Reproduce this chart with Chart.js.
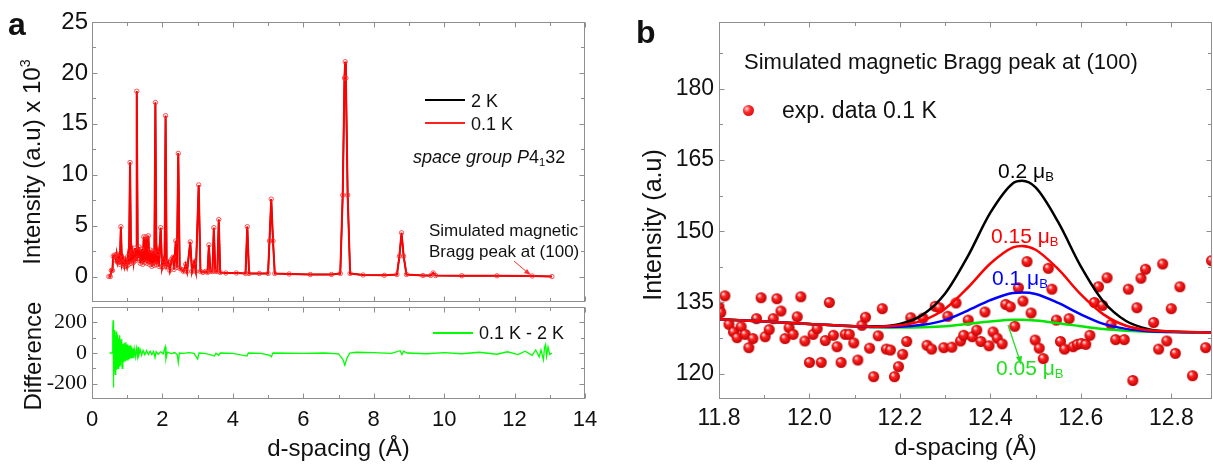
<!DOCTYPE html>
<html>
<head>
<meta charset="utf-8">
<script src="https://cdn.jsdelivr.net/npm/chart.js@4.4.0/dist/chart.umd.min.js"></script>
<style>
  html, body { margin: 0; padding: 0; background: #fff; }
  #wrap { position: relative; width: 1213px; height: 466px; overflow: hidden;
          font-family: 'Liberation Sans', Arial, sans-serif; color: #111; }
  canvas { position: absolute; }
  .t { position: absolute; white-space: nowrap; line-height: 1; transform: translateY(-50%); }
  .rot { position: absolute; white-space: nowrap; line-height: 1; transform: translate(-50%, -50%) rotate(-90deg); }
  .key { position: absolute; height: 2px; }
  sub.s { font-size: 0.62em; vertical-align: -0.3em; line-height: 0; }
  sup.s { font-size: 0.6em; vertical-align: 0.7em; line-height: 0; }
  #ball { position: absolute; width: 11px; height: 11px; border-radius: 50%;
          background: radial-gradient(circle at 35% 35%, #ffd6d6 0%, #ff2a2a 35%, #c40000 100%); }
</style>
</head>
<body>
<div id="wrap">
  <canvas id="patternChart" width="600" height="305" style="left:0;top:0"></canvas>
  <canvas id="diffChart" width="600" height="161" style="left:0;top:305px"></canvas>
  <canvas id="peakChart" width="593" height="466" style="left:620px;top:0"></canvas>

  <div class="t" style="left:8px;top:24px;font-size:32px;font-weight:bold">a</div>
  <div class="t" style="left:636px;top:32px;font-size:32px;font-weight:bold">b</div>

  <div class="rot" style="left:32px;top:162px;font-size:24px">Intensity (a.u) x 10<sup class="s">3</sup></div>
  <div class="rot" style="left:33px;top:356px;font-size:24px">Difference</div>
  <div class="rot" style="left:652px;top:225px;font-size:25px">Intensity (a.u)</div>

  <div class="key" style="left:425px;top:99px;width:40px;background:#000"></div>
  <div class="t" style="left:471px;top:101px;font-size:18px">2 K</div>
  <div class="key" style="left:425px;top:122px;width:40px;background:#ff2020"></div>
  <div class="t" style="left:471px;top:124px;font-size:18px">0.1 K</div>
  <div class="t" style="left:413px;top:157px;font-size:18px"><i>space group P</i>4<sub class="s">1</sub>32</div>
  <div class="t" style="left:429px;top:230px;font-size:17px">Simulated magnetic</div>
  <div class="t" style="left:429px;top:251px;font-size:17px">Bragg peak at (100)</div>

  <div class="key" style="left:433px;top:332px;width:40px;background:#00ff00"></div>
  <div class="t" style="left:479px;top:333px;font-size:18px">0.1 K - 2 K</div>

  <div class="t" style="left:744px;top:62px;font-size:22px">Simulated magnetic Bragg peak at (100)</div>
  <div id="ball" style="left:743px;top:105px"></div>
  <div class="t" style="left:782px;top:110px;font-size:23px">exp. data 0.1 K</div>

  <div class="t" style="left:998px;top:170px;font-size:21px;color:#000">0.2 μ<sub class="s">B</sub></div>
  <div class="t" style="left:991px;top:235px;font-size:21px;color:#ff0000">0.15 μ<sub class="s">B</sub></div>
  <div class="t" style="left:992px;top:277px;font-size:21px;color:#0000ff">0.1 μ<sub class="s">B</sub></div>
  <div class="t" style="left:996px;top:367px;font-size:21px;color:#22e022">0.05 μ<sub class="s">B</sub></div>

  <svg width="1213" height="466" style="position:absolute;left:0;top:0">
    <line x1="514" y1="261" x2="528" y2="273" stroke="#ff3030" stroke-width="1"/>
    <polygon points="531,275 524,273 527,269" fill="#ff3030"/>
    <line x1="1008" y1="325" x2="1019" y2="358" stroke="#22e022" stroke-width="1.3"/>
    <polygon points="1021,365 1016,357 1022,356" fill="#22e022"/>
  </svg>
</div>

<script>
// panel a: powder pattern, intensity in units of 10^3
const patternD = [
  0.48, 0.52, 0.55, 0.58, 0.60, 0.64, 0.68, 0.70, 0.73, 0.76,
  0.79, 0.82, 0.85, 0.88, 0.92, 0.95, 0.99, 1.02, 1.05, 1.08,
  1.11, 1.15, 1.18, 1.22, 1.25, 1.27, 1.30, 1.34, 1.37, 1.41,
  1.44, 1.47, 1.50, 1.53, 1.56, 1.60, 1.63, 1.66, 1.70, 1.73,
  1.77, 1.80, 1.83, 1.87, 1.90, 1.95, 1.99, 2.03, 2.06, 2.09,
  2.12, 2.17, 2.21, 2.26, 2.30, 2.33, 2.38, 2.41, 2.45, 2.49,
  2.55, 2.60, 2.66, 2.70, 2.79, 2.84, 2.90, 2.95, 3.03, 3.08,
  3.15, 3.22, 3.28, 3.32, 3.36, 3.42, 3.46, 3.50, 3.56, 3.60,
  3.64, 3.80, 4.10, 4.36, 4.41, 4.46, 4.75, 5.00, 5.04, 5.09,
  5.14, 5.19, 5.60, 6.20, 6.80, 7.05, 7.12, 7.17, 7.19, 7.21,
  7.26, 7.33, 7.70, 8.30, 8.66, 8.73, 8.79, 8.85, 8.93, 9.40,
  9.62, 9.69, 9.76, 10.5, 11.5, 12.5, 13.06
];
const patternI = [
  0, 0, 0.6, 0.6, 2.0, 2.1, 1.6, 2.2, 1.4, 1.9,
  1.2, 4.9, 1.3, 1.8, 1.0, 1.6, 1.0, 2.0, 1.2, 11.2,
  1.3, 2.4, 1.4, 2.8, 1.6, 18.2, 1.8, 2.9, 1.3, 2.7,
  1.2, 3.9, 1.4, 3.9, 1.3, 4.0, 1.2, 2.6, 1.0, 2.5,
  1.1, 17.1, 1.2, 2.3, 1.0, 4.8, 0.9, 1.6, 1.0, 15.8,
  1.0, 1.4, 0.6, 1.7, 1.9, 0.7, 3.5, 0.9, 12.1, 0.8,
  0.7, 0.5, 1.2, 0.5, 3.4, 0.5, 1.4, 0.5, 9.0, 0.5,
  0.4, 0.5, 0.4, 3.1, 0.5, 0.5, 4.8, 0.5, 0.5, 5.6,
  0.4, 0.35, 0.35, 0.3, 4.9, 0.3, 0.3, 0.3, 3.5, 7.6,
  3.5, 0.3, 0.25, 0.2, 0.2, 0.3, 8.0, 19.5, 21.1, 19.5,
  8.0, 0.3, 0.15, 0.12, 0.2, 2.0, 4.3, 2.0, 0.2, 0.1,
  0.1, 0.35, 0.1, 0.08, 0.08, 0.05, 0.0
];
const patternYTicks = [0, 5, 10, 15, 20, 25];
const patternYMinor = [2.5, 7.5, 12.5, 17.5, 22.5];
const dTicks = [0, 2, 4, 6, 8, 10, 12, 14];
const dMinor = [1, 3, 5, 7, 9, 11, 13];

// panel a: difference 0.1 K - 2 K
const diffD = [
  0.50, 0.58, 0.59, 0.60, 0.605, 0.61, 0.62, 0.63, 0.64, 0.65,
  0.66, 0.67, 0.68, 0.69, 0.70, 0.71, 0.72, 0.73, 0.74, 0.75,
  0.76, 0.77, 0.78, 0.79, 0.80, 0.81, 0.82, 0.83, 0.84, 0.85,
  0.86, 0.87, 0.88, 0.89, 0.90, 0.92, 0.94, 0.96, 0.98, 1.00,
  1.02, 1.04, 1.06, 1.08, 1.10, 1.12, 1.14, 1.16, 1.18, 1.20,
  1.23, 1.26, 1.29, 1.31, 1.33, 1.37, 1.41, 1.45, 1.50, 1.55,
  1.60, 1.65, 1.70, 1.75, 1.79, 1.82, 1.88, 1.95, 2.02, 2.08,
  2.10, 2.14, 2.25, 2.35, 2.42, 2.45, 2.48, 2.60, 2.75, 2.90,
  3.00, 3.04, 3.20, 3.35, 3.48, 3.52, 3.60, 3.64, 4.00, 4.40,
  4.44, 4.80, 5.05, 5.09, 5.14, 6.00, 6.60, 7.00, 7.12, 7.18,
  7.24, 7.32, 7.50, 8.00, 8.50, 8.75, 8.80, 8.85, 8.95, 9.50,
  10.0, 10.5, 11.0, 11.5, 11.8, 12.1, 12.3, 12.5, 12.6, 12.7,
  12.75, 12.82, 12.85, 12.88, 12.91, 12.95, 13.0, 13.06
];
const diffV = [
  0, 0, 160, 213, -225, 180, -160, 130, -120, 150,
  -140, 110, -90, 140, -110, 100, -80, 120, -100, 90,
  -70, 100, -90, 115, -60, 80, -70, 90, -55, 70,
  -100, 60, -80, 55, -60, 65, -50, 70, -45, 55,
  -50, 45, -40, 50, -35, 40, -30, 30, -30, 25,
  -25, 30, -20, 40, -15, 20, -15, 18, -12, 15,
  -10, 12, -10, 10, -30, 8, -8, 8, -5, 40,
  -40, 5, -4, 3, -10, -62, 0, -3, 2, -3,
  -40, 0, -2, -10, -20, -2, -15, 0, -2, -20,
  0, -2, -15, -25, 0, -2, 0, -5, -40, -80,
  -35, 0, 5, 3, -2, 15, -10, 12, 0, -5,
  3, -5, 5, -8, 8, -10, 12, -15, 20, -25,
  20, -45, 35, 55, -20, 40, -10, 0
];
const diffYTicks = [-200, 0, 200];
const diffYMinor = [-100, 100];

// panel b: exp. data 0.1 K
const expD = [
  11.800, 11.804, 11.813, 11.822, 11.832, 11.840, 11.849, 11.858, 11.866, 11.875,
  11.883, 11.893, 11.902, 11.911, 11.920, 11.928, 11.937, 11.946, 11.955, 11.964,
  11.973, 11.981, 11.990, 12.000, 12.008, 12.017, 12.026, 12.035, 12.044, 12.053,
  12.061, 12.070, 12.079, 12.088, 12.098, 12.107, 12.116, 12.124, 12.133, 12.142,
  12.152, 12.161, 12.170, 12.179, 12.188, 12.197, 12.206, 12.215, 12.224, 12.251,
  12.260, 12.270, 12.278, 12.287, 12.297, 12.306, 12.315, 12.324, 12.334, 12.341,
  12.351, 12.360, 12.370, 12.379, 12.388, 12.397, 12.406, 12.415, 12.426, 12.434,
  12.444, 12.454, 12.462, 12.472, 12.481, 12.490, 12.499, 12.508, 12.517, 12.528,
  12.536, 12.546, 12.555, 12.564, 12.574, 12.583, 12.592, 12.601, 12.611, 12.620,
  12.630, 12.639, 12.648, 12.658, 12.667, 12.677, 12.696, 12.705, 12.715, 12.724,
  12.733, 12.743, 12.761, 12.772, 12.781, 12.790, 12.800, 12.809, 12.819, 12.847,
  12.876, 12.889
];
const expI = [
  134.1, 132.9, 136.4, 130.4, 128.8, 127.6, 129.9, 128.3, 125.5, 127.4,
  131.6, 136.0, 127.8, 129.3, 131.6, 135.8, 133.2, 127.4, 129.7, 128.3,
  132.0, 136.2, 126.9, 122.4, 128.3, 129.5, 122.4, 127.0, 135.0, 128.1,
  125.7, 122.4, 128.3, 128.3, 126.5, 122.9, 130.2, 131.9, 125.4, 119.4,
  128.0, 133.7, 125.2, 125.0, 119.4, 121.5, 124.1, 126.8, 131.8, 131.7,
  126.0, 125.2, 134.2, 133.9, 125.5, 132.1, 125.6, 134.9, 126.9, 128.1,
  131.3, 127.8, 129.2, 126.8, 133.0, 125.9, 128.8, 127.5, 126.3, 134.6,
  134.1, 130.0, 138.1, 135.3, 143.6, 132.8, 127.1, 125.4, 123.2, 142.2,
  137.8, 131.3, 126.8, 125.2, 131.6, 125.7, 126.2, 126.4, 126.2, 128.1,
  135.0, 138.3, 134.4, 140.2, 130.4, 127.2, 127.2, 137.8, 118.6, 133.9,
  140.1, 142.0, 130.8, 125.2, 143.1, 126.9, 133.7, 124.3, 138.3, 119.6,
  125.5, 143.8
];

// panel b: simulated (100) peak for several moments
const simD   = [11.8, 11.9, 12.0, 12.1, 12.15, 12.2, 12.25, 12.3, 12.35, 12.4, 12.45, 12.47, 12.5, 12.55, 12.6, 12.65, 12.7, 12.75, 12.8, 12.89];
const mu020  = [131.5, 131.0, 130.5, 130.0, 130.0, 130.5, 132.4, 136.9, 144.7, 153.9, 160.1, 160.6, 159.2, 151.9, 142.6, 135.2, 131.1, 129.4, 128.9, 128.7];
const mu015  = [131.5, 131.0, 130.5, 130.0, 129.9, 130.2, 131.2, 133.7, 138.1, 143.2, 146.6, 146.9, 146.1, 142.0, 136.7, 132.5, 130.1, 129.15, 128.9, 128.7];
const mu010  = [131.5, 131.0, 130.5, 130.0, 129.85, 129.9, 130.3, 131.3, 133.3, 135.5, 137.0, 137.1, 136.8, 134.9, 132.5, 130.5, 129.45, 128.95, 128.8, 128.7];
const mu005  = [131.5, 131.0, 130.5, 130.0, 129.8, 129.75, 129.8, 130.0, 130.5, 131.0, 131.35, 131.35, 131.2, 130.65, 130.0, 129.4, 129.05, 128.85, 128.8, 128.7];
const peakXTicks = [11.8, 12.0, 12.2, 12.4, 12.6, 12.8];
const peakXMinor = [11.9, 12.1, 12.3, 12.5, 12.7];
const peakYTicks = [120, 135, 150, 165, 180];
const peakYMinor = [127.5, 142.5, 157.5, 172.5, 187.5];

const FONT = "'Liberation Sans', Arial, sans-serif";
const pts = (xs, ys) => xs.map((x, i) => ({ x: x, y: ys[i] }));

// box round the plot area with inward ticks on all four sides
const frameTicks = {
    id: 'frameTicks',
    afterDatasetsDraw(chart, args, o) {
        const { ctx, chartArea: a } = chart;
        const xs = chart.scales.x, ys = chart.scales.y;
        const L = Math.round(a.left) + 0.5, R = Math.round(a.right) - 0.5;
        const T = Math.round(a.top) + 0.5, B = Math.round(a.bottom) - 0.5;
        ctx.save();
        ctx.strokeStyle = '#8e8e8e';
        ctx.lineWidth = 1;
        ctx.beginPath();
        const xMark = (vals, len) => vals.forEach(v => {
            const p = Math.round(xs.getPixelForValue(v)) + 0.5;
            ctx.moveTo(p, B); ctx.lineTo(p, B - len);
            ctx.moveTo(p, T); ctx.lineTo(p, T + len);
        });
        const yMark = (vals, len) => vals.forEach(v => {
            const p = Math.round(ys.getPixelForValue(v)) + 0.5;
            ctx.moveTo(L, p); ctx.lineTo(L + len, p);
            ctx.moveTo(R, p); ctx.lineTo(R - len, p);
        });
        xMark(o.xMajor, 5); xMark(o.xMinor, 3.5);
        yMark(o.yMajor, 5); yMark(o.yMinor, 3.5);
        ctx.stroke();
        ctx.strokeRect(L, T, R - L, B - T);
        ctx.restore();
    }
};

const fixedTicks = vals => scale => { scale.ticks = vals.map(v => ({ value: v })); };
// pin an axis to a set size and drop the label overhang padding
const fixWidth = w => s => { s.width = w; s.paddingTop = 0; s.paddingBottom = 0; };
const fixHeight = h => s => { s.height = h; s.paddingLeft = 0; s.paddingRight = 0; };

// ball marker for the experimental points
function makeBall(r) {
    const c = document.createElement('canvas');
    const s = r * 2 + 2;
    c.width = s; c.height = s;
    const g = c.getContext('2d');
    const grad = g.createRadialGradient(s / 2 - r * 0.35, s / 2 - r * 0.4, r * 0.1, s / 2, s / 2, r);
    grad.addColorStop(0, '#ffe0e0');
    grad.addColorStop(0.35, '#ff2424');
    grad.addColorStop(1, '#c20000');
    g.fillStyle = grad;
    g.beginPath();
    g.arc(s / 2, s / 2, r, 0, Math.PI * 2);
    g.fill();
    return c;
}

const common = {
    responsive: false,
    animation: false,
    events: [],
    plugins: { legend: { display: false }, tooltip: { enabled: false } }
};

new Chart(document.getElementById('patternChart'), {
    type: 'scatter',
    data: {
        datasets: [
            {
                label: '0.1 K',
                data: pts(patternD, patternI),
                showLine: true,
                borderColor: '#ff0000',
                borderWidth: 2,
                pointRadius: 2.2,
                pointBorderWidth: 1,
                pointBorderColor: 'rgba(255,40,40,0.8)',
                pointBackgroundColor: 'rgba(255,255,255,0)',
                order: 0
            },
            {
                label: '2 K',
                data: pts(patternD, patternI),
                showLine: true,
                borderColor: '#000',
                borderWidth: 1.5,
                pointRadius: 0,
                order: 1
            }
        ]
    },
    options: {
        ...common,
        layout: { autoPadding: false, padding: { top: 22, right: 15, bottom: 3, left: 0 } },
        plugins: { ...common.plugins,
            frameTicks: { xMajor: dTicks, xMinor: dMinor, yMajor: patternYTicks, yMinor: patternYMinor } },
        scales: {
            x: { type: 'linear', display: false, min: 0, max: 14 },
            y: {
                type: 'linear', min: -2.5, max: 25,
                afterFit: fixWidth(92),
                afterBuildTicks: fixedTicks(patternYTicks),
                grid: { display: false, drawTicks: false },
                border: { display: false },
                ticks: { autoSkip: false, padding: 4, color: '#111', font: { family: FONT, size: 24 } }
            }
        }
    },
    plugins: [frameTicks]
});

new Chart(document.getElementById('diffChart'), {
    type: 'scatter',
    data: {
        datasets: [{
            label: '0.1 K - 2 K',
            data: pts(diffD, diffV),
            showLine: true,
            borderColor: '#00ff00',
            borderWidth: 1.3,
            pointRadius: 0
        }]
    },
    options: {
        ...common,
        layout: { autoPadding: false, padding: { top: 2, right: 15, bottom: 0, left: 0 } },
        plugins: { ...common.plugins,
            frameTicks: { xMajor: dTicks, xMinor: dMinor, yMajor: diffYTicks, yMinor: diffYMinor } },
        scales: {
            x: {
                type: 'linear', min: 0, max: 14,
                afterFit: fixHeight(67),
                afterBuildTicks: fixedTicks(dTicks),
                grid: { display: false, drawTicks: false },
                border: { display: false },
                ticks: { autoSkip: false, maxRotation: 0, padding: 8, color: '#111', font: { family: FONT, size: 22 } },
                title: { display: true, text: 'd-spacing (Å)', color: '#111', padding: { top: 0, bottom: 2 },
                         font: { family: FONT, size: 24 } }
            },
            y: {
                type: 'linear', min: -300, max: 300,
                afterFit: fixWidth(92),
                afterBuildTicks: fixedTicks(diffYTicks),
                grid: { display: false, drawTicks: false },
                border: { display: false },
                ticks: { autoSkip: false, padding: 5, color: '#111',
                         font: { family: "'Liberation Serif', 'Times New Roman', serif", size: 22 } }
            }
        }
    },
    plugins: [frameTicks]
});

const curve = (label, ys, color, order) => ({
    label: label,
    data: pts(simD, ys),
    showLine: true,
    borderColor: color,
    borderWidth: 2.5,
    pointRadius: 0,
    cubicInterpolationMode: 'monotone',
    order: order
});

new Chart(document.getElementById('peakChart'), {
    type: 'scatter',
    data: {
        datasets: [
            {
                label: 'exp. data 0.1 K',
                data: pts(expD, expI),
                pointStyle: makeBall(5.5),
                pointRadius: 5.5,
                clip: 0,
                order: 5
            },
            curve('0.2 μB', mu020, '#000000', 4),
            curve('0.05 μB', mu005, '#00e600', 3),
            curve('0.1 μB', mu010, '#0000ff', 2),
            curve('0.15 μB', mu015, '#ff0000', 1)
        ]
    },
    options: {
        ...common,
        layout: { autoPadding: false, padding: { top: 22, right: 1, bottom: 0, left: 0 } },
        plugins: { ...common.plugins,
            frameTicks: { xMajor: peakXTicks, xMinor: peakXMinor, yMajor: peakYTicks, yMinor: peakYMinor } },
        scales: {
            x: {
                type: 'linear', min: 11.8, max: 12.89,
                afterFit: fixHeight(67),
                afterBuildTicks: fixedTicks(peakXTicks),
                grid: { display: false, drawTicks: false },
                border: { display: false },
                ticks: { autoSkip: false, maxRotation: 0, padding: 6, color: '#111',
                         font: { family: FONT, size: 23 }, callback: v => v.toFixed(1) },
                title: { display: true, text: 'd-spacing (Å)', color: '#111', padding: { top: 0, bottom: 3 },
                         font: { family: FONT, size: 24 } }
            },
            y: {
                type: 'linear', min: 114.7, max: 194,
                afterFit: fixWidth(99),
                afterBuildTicks: fixedTicks(peakYTicks),
                grid: { display: false, drawTicks: false },
                border: { display: false },
                ticks: { autoSkip: false, padding: 5, color: '#111', font: { family: FONT, size: 23 } }
            }
        }
    },
    plugins: [frameTicks]
});
</script>
</body>
</html>
